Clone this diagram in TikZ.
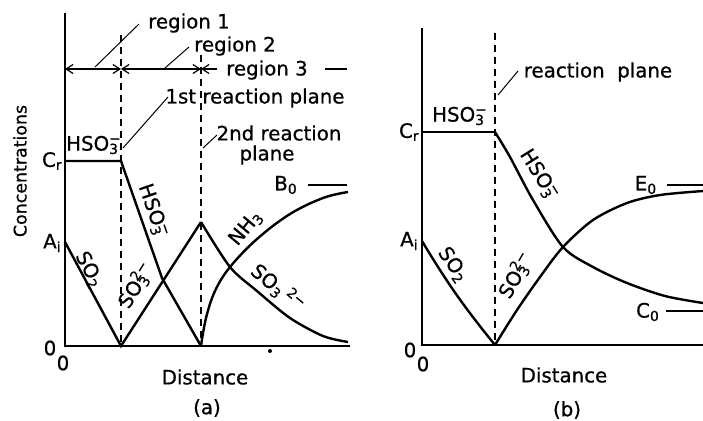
\documentclass[tikz,border=0pt]{standalone}
\usepackage{fontspec}
\setmainfont{DejaVu Sans}[FakeBold=0.7]
\usetikzlibrary{arrows.meta}
\newcommand{\chemss}[2]{\rlap{\textsubscript{#1}}\textsuperscript{#2}}
\begin{document}
\begin{tikzpicture}[x=0.5pt,y=-0.5pt,
  lbl/.style={font=\fontsize{9.9}{11}\selectfont, inner sep=0pt},
  curve/.style={line width=1.2pt, line join=miter},
  axis/.style={line width=1pt},
  plane/.style={line width=0.6pt, dash pattern=on 3.5pt off 2.5pt},
  leader/.style={line width=0.5pt},
  tip/.tip={Straight Barb[length=3.5pt,width=4.5pt]},
  dim/.style={line width=0.6pt, tip-tip},
]
\useasboundingbox (0,0) rectangle (703,420);

% ================= panel (a) =================
\coordinate (aO) at (65,346);
\coordinate (aTop) at (65,13);
\coordinate (aEnd) at (350,346);
\draw[axis] (aTop) -- (aO) -- (aEnd);

\coordinate (p1t) at (121,35);  \coordinate (p1b) at (121,346);
\coordinate (p2t) at (201,55);  \coordinate (p2b) at (201,346);
\draw[plane] (p1t) -- (p1b);
\draw[plane] (p2t) -- (p2b);

% region row
\coordinate (r0) at (65,69);
\coordinate (r1) at (121,69);
\coordinate (r2) at (201,69);
\draw[dim] (r0) -- (r1);
\draw[dim] (r1) -- (r2);
\node[lbl] (reg3) at (267,70) {region 3};
\coordinate (r3a) at (217,69);
\coordinate (r3b) at (325,69);
\coordinate (r3c) at (347,69);
\draw[line width=0.6pt, -tip] (r3a) -- (r2);
\draw[line width=0.6pt] (r3b) -- (r3c);

\node[lbl] (reg1) at (189,23) {region 1};
\coordinate (l1a) at (95,67); \coordinate (l1b) at (139,24);
\draw[leader] (l1a) -- (l1b);
\node[lbl] (reg2) at (235,46) {region 2};
\coordinate (l2a) at (165,68); \coordinate (l2b) at (189,47);
\draw[leader] (l2a) -- (l2b);

\node[lbl] (rp1) at (255,98) {1st reaction plane};
\coordinate (l3a) at (123,148); \coordinate (l3b) at (168,97);
\draw[leader] (l3a) -- (l3b);
\node[lbl] (rp2) at (279,133) {2nd reaction};
\node[lbl] (rp2b) at (267,155) {plane};
\coordinate (l4a) at (203,148); \coordinate (l4b) at (217,135);
\draw[leader] (l4a) -- (l4b);

% axis labels
\node[lbl, font=\fontsize{8.7}{10}\selectfont, rotate=90] (conc) at (20,171) {Concentrations};
\node[lbl, anchor=east] (aCr) at (63,161) {C\textsubscript{r}};
\node[lbl, anchor=east] (aAi) at (62,243) {A\textsubscript{i}};
\node[lbl] (aZ1) at (50,348) {0};
\node[lbl] (aZ2) at (63,363) {0};
\node[lbl] (aDist) at (205,377) {Distance};
\node[lbl] (aCap) at (207,408) {(a)};
\node[lbl] (aB0) at (286,185) {B\textsubscript{0}};
\coordinate (aB0a) at (308,185); \coordinate (aB0b) at (347,185);
\draw[line width=0.6pt] (aB0a) -- (aB0b);
\fill (270,351) circle (2);

% curves (a)
\draw[curve] (65,161) -- (121,161) -- (162,278) -- (201,346);
\draw[curve] (65,242) -- (121,346) -- (201,222);
\draw[curve] plot[smooth] coordinates {(201,222) (230,267) (257,291) (290,318) (323,336) (348,342)};
\draw[curve] plot[smooth, tension=0.6] coordinates {(201,346) (206,318) (215,291) (230,267) (257,239) (290,214) (323,198) (348,192)};

% curve labels (a)
\node[lbl] (aH1) at (94,145) {HSO\chemss{3}{−}};
\node[lbl, rotate=-62] (aSO2) at (89,270) {SO\textsubscript{2}};
\node[lbl, rotate=58] (aSO3a) at (136,285) {SO\chemss{3}{2−}};
\node[lbl, rotate=-71] (aH2) at (153,211) {HSO\chemss{3}{−}};
\node[lbl, rotate=50] (aNH3) at (246,228) {NH\textsubscript{3}};
\node[lbl, rotate=-40] (aSO3b) at (278,288) {SO\textsubscript{3}\,\textsuperscript{2−}};

% ================= panel (b) =================
\coordinate (bO) at (422,345);
\coordinate (bTop) at (422,28);
\coordinate (bEnd) at (703,345);
\draw[axis] (bTop) -- (bO) -- (bEnd);
\coordinate (pbt) at (495,33); \coordinate (pbb) at (495,345);
\draw[plane] (pbt) -- (pbb);

\node[lbl] (brp) at (598,72) {reaction\ \ plane};
\coordinate (l5a) at (498,95); \coordinate (l5b) at (518,71);
\draw[leader] (l5a) -- (l5b);

\node[lbl, anchor=east] (bCr) at (420,132) {C\textsubscript{r}};
\node[lbl, anchor=east] (bAi) at (419,241) {A\textsubscript{i}};
\node[lbl] (bZ1) at (410,350) {0};
\node[lbl] (bZ2) at (423,364) {0};
\node[lbl] (bDist) at (564,375) {Distance};
\node[lbl] (bCap) at (567,410) {(b)};
\node[lbl] (bE0) at (646,185) {E\textsubscript{0}};
\coordinate (bE0a) at (667,185); \coordinate (bE0b) at (703,185);
\draw[line width=0.6pt] (bE0a) -- (bE0b);
\node[lbl] (bC0) at (648,312) {C\textsubscript{0}};
\coordinate (bC0a) at (666,311); \coordinate (bC0b) at (703,311);
\draw[line width=0.6pt] (bC0a) -- (bC0b);

% curves (b)
\draw[curve] (422,132) -- (495,132);
\draw[curve] plot[smooth] coordinates {(495,132) (510,157) (533,200) (563,247) (593,267) (627,283) (665,296) (703,303)};
\draw[curve] (422,241) to[bend right=4] (495,345);
\draw[curve] plot[smooth] coordinates {(495,345) (517,310) (540,277) (563,247) (593,220) (627,203) (660,195) (703,191)};

% curve labels (b)
\node[lbl] (bH1) at (460,116) {HSO\chemss{3}{−}};
\node[lbl, rotate=-55] (bSO2) at (453,265) {SO\textsubscript{2}};
\node[lbl, rotate=60] (bSO3) at (516,275) {SO\chemss{3}{2−}};
\node[lbl, rotate=-58] (bH2) at (539,175) {HSO\chemss{3}{−}};
\end{tikzpicture}
\end{document}
